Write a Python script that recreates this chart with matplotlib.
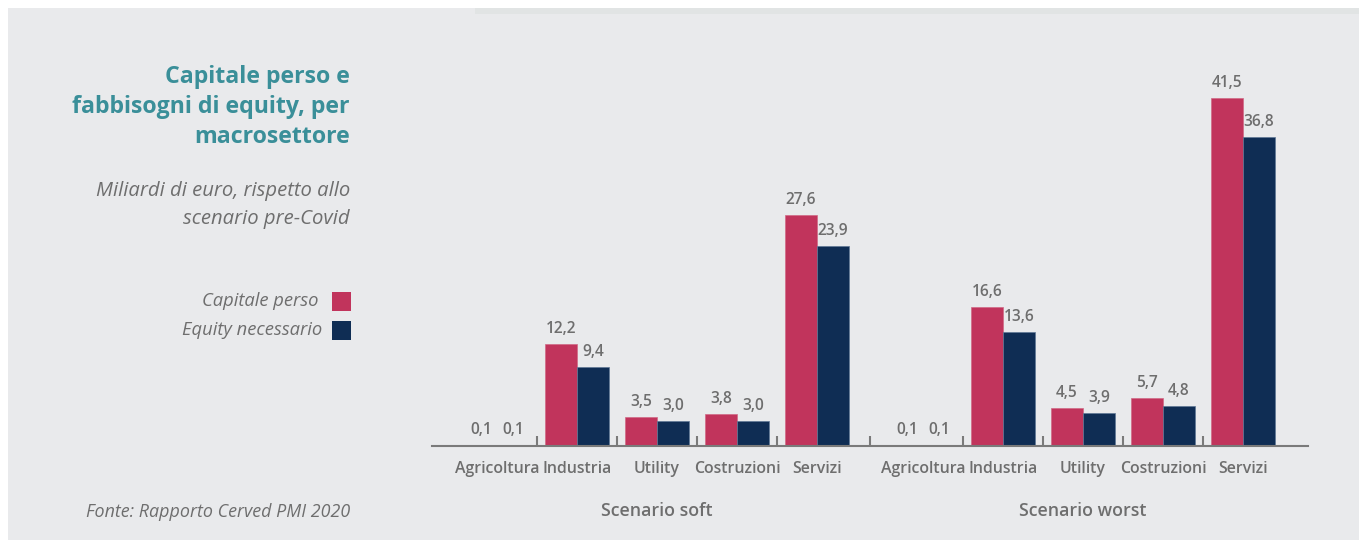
import matplotlib.pyplot as plt
from matplotlib.patches import Rectangle

plt.rcParams['font.family'] = ['Open Sans', 'DejaVu Sans']

categories = ["Agricoltura", "Industria", "Utility", "Costruzioni", "Servizi"]
scenarios = ["Scenario soft", "Scenario worst"]
capitale_soft = [0.1, 12.2, 3.5, 3.8, 27.6]
equity_soft = [0.1, 9.4, 3.0, 3.0, 23.9]
capitale_worst = [0.1, 16.6, 4.5, 5.7, 41.5]
equity_worst = [0.1, 13.6, 3.9, 4.8, 36.8]
series_names = ["Capitale perso", "Equity necessario"]

PINK = "#C1345C"
NAVY = "#0F2D54"
GRAY = "#6E6E6E"
TEAL = "#3A8F99"
BG = "#E9EAEC"

W, H = 1359, 540
fig = plt.figure(figsize=(W / 100, H / 100), dpi=100, facecolor="white")

# grey panel
fig.patches.append(Rectangle((8 / W, 0), 1, 1 - 8 / H, transform=fig.transFigure,
                             facecolor=BG, edgecolor="none", zorder=-10))
fig.patches.append(Rectangle((475 / W, 1 - 14 / H), 1, 6 / H, transform=fig.transFigure,
                             facecolor="#E1E4E4", edgecolor="none", zorder=-9))

# axes: baseline at y=446px, x from 432 to 1308px
ymax = 45
px_per_unit = 8.386
ax = fig.add_axes([432 / W, (H - 446) / H, 876 / W, ymax * px_per_unit / H])
ax.set_facecolor("none")

gap = 1.325
bw = 0.4
offsets = [0, 5 - 1 + gap]
data = [(capitale_soft, equity_soft), (capitale_worst, equity_worst)]

centers_all = []
labels_all = []
for g, (cap, eq) in enumerate(data):
    xs = [offsets[g] + i for i in range(len(categories))]
    ax.bar([x - bw / 2 for x in xs], cap, width=bw, color=PINK, edgecolor="#D06A86", linewidth=0.5)
    ax.bar([x + bw / 2 for x in xs], eq, width=bw, color=NAVY, edgecolor="#5F7896", linewidth=0.5)
    for x, c, e in zip(xs, cap, eq):
        ax.annotate(f"{c:.1f}".replace(".", ","), (x - bw / 2, c), xytext=(0, 5),
                    textcoords="offset points", ha="center", va="bottom",
                    fontsize=11.2, fontweight="semibold", color=GRAY)
        ax.annotate(f"{e:.1f}".replace(".", ","), (x + bw / 2, e), xytext=(0, 5),
                    textcoords="offset points", ha="center", va="bottom",
                    fontsize=11.2, fontweight="semibold", color=GRAY)
    centers_all += xs
    labels_all += categories
    ax.annotate(scenarios[g], (sum(xs) / len(xs), 0), xycoords=("data", "axes fraction"),
                xytext=(0, -47), textcoords="offset points", ha="center", va="center",
                fontsize=12.8, fontweight="semibold", color=GRAY)

sep = (offsets[0] + 4 + offsets[1]) / 2
tick_pos = [0.5, 1.5, 2.5, 3.5, sep,
            offsets[1] + 0.5, offsets[1] + 1.5, offsets[1] + 2.5, offsets[1] + 3.5]
ax.set_xticks(tick_pos)
ax.set_xticklabels([])
ax.tick_params(axis="x", which="major", direction="in", length=7, width=1.5, color="#7A7A7A")
ax.set_xticks(centers_all, labels_all, minor=True)
ax.tick_params(axis="x", which="minor", length=0, pad=11, labelsize=11.4, labelcolor=GRAY)
for t in ax.get_xticklabels(minor=True):
    t.set_fontweight("semibold")

ax.set_xlim((432 - 497) / 80, (1308 - 497) / 80)
ax.set_ylim(0, ymax)
ax.set_yticks([])
for s in ["top", "right", "left"]:
    ax.spines[s].set_visible(False)
ax.spines["bottom"].set_color("#7A7A7A")
ax.spines["bottom"].set_linewidth(1.5)

# left-hand texts
xr = 350 / W
fig.text(xr, 1 - 65 / H, "Capitale perso e\nfabbisogni di equity, per\nmacrosettore",
         ha="right", va="top", multialignment="right", fontsize=16.7, fontweight="bold",
         color=TEAL, linespacing=1.32)
fig.text(xr, 1 - 181 / H, "Miliardi di euro, rispetto allo\nscenario pre-Covid",
         ha="right", va="top", multialignment="right", fontsize=14.6, style="italic",
         color=GRAY, linespacing=1.55)

sq = 19
for i, (name, col) in enumerate(zip(series_names, [PINK, NAVY])):
    yc = 301 + i * 29
    fig.patches.append(Rectangle((332 / W, 1 - (yc + sq / 2) / H), sq / W, sq / H,
                                 transform=fig.transFigure, facecolor=col, edgecolor="none"))
    fig.text((318 + 4 * i) / W, 1 - yc / H, name, ha="right", va="center",
             fontsize=13.2, style="italic", color=GRAY)

fig.text(xr, 1 - 512 / H, "Fonte: Rapporto Cerved PMI 2020", ha="right", va="center",
         fontsize=12.9, style="italic", color=GRAY)

fig.savefig("out.png", dpi=100, facecolor=fig.get_facecolor())
